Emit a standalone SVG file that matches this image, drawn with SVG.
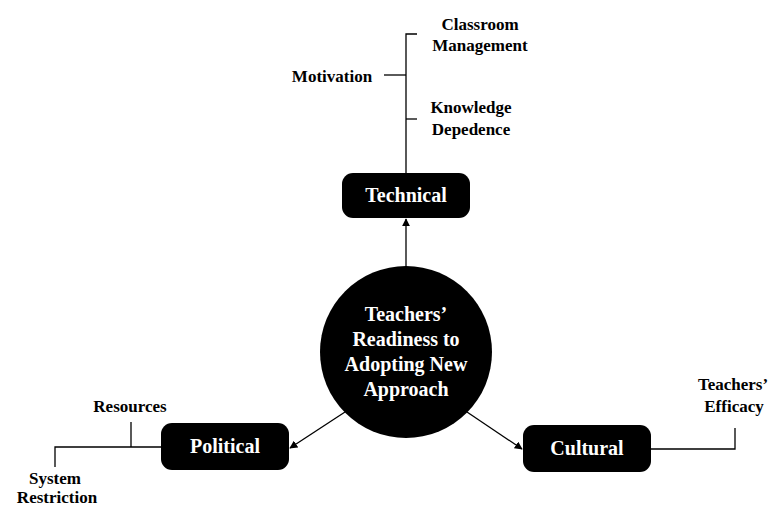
<svg xmlns="http://www.w3.org/2000/svg" width="771" height="506" viewBox="0 0 771 506">
  <style>
    .box { fill: #000; }
    .main { font-family: "Liberation Serif", "Times New Roman", serif; font-weight: bold; font-size: 20px; fill: #fff; text-anchor: middle; }
    .label { font-family: "Liberation Serif", "Times New Roman", serif; font-weight: bold; font-size: 17px; fill: #000; text-anchor: middle; }
    .line { stroke: #000; stroke-width: 1.3; fill: none; }
    .arrow { stroke: #000; stroke-width: 1.3; fill: none; marker-end: url(#head); }
  </style>
  <defs>
    <marker id="head" viewBox="0 0 10 10" refX="9" refY="5" markerWidth="8" markerHeight="8" markerUnits="userSpaceOnUse" orient="auto">
      <path d="M0,0 L10,5 L0,10 Z" fill="#000"/>
    </marker>
  </defs>
  <rect width="771" height="506" fill="#fff"/>

  <g id="connectors">
    <!-- centre to the three categories -->
    <line class="arrow" x1="406" y1="266" x2="406" y2="219"/>
    <line class="arrow" x1="345" y1="412" x2="290" y2="448"/>
    <line class="arrow" x1="467" y1="412" x2="522" y2="449"/>
    <!-- technical branches -->
    <polyline class="line" points="417,34 406,34 406,173"/>
    <line class="line" x1="406" y1="119" x2="417" y2="119"/>
    <line class="line" x1="384" y1="75" x2="406" y2="75"/>
    <!-- political branches -->
    <polyline class="line" points="55,467 55,447 161,447"/>
    <line class="line" x1="131" y1="422" x2="131" y2="447"/>
    <!-- cultural branch -->
    <polyline class="line" points="651,449 735,449 735,428"/>
  </g>

  <g id="centre">
    <circle class="box" cx="406" cy="352" r="86"/>
    <text class="main" x="406" y="321">Teachers’</text>
    <text class="main" x="406" y="346">Readiness to</text>
    <text class="main" x="406" y="371">Adopting New</text>
    <text class="main" x="406" y="396">Approach</text>
  </g>

  <g id="technical">
    <rect class="box" x="342" y="173" width="128" height="45" rx="11"/>
    <text class="main" x="406" y="202">Technical</text>
  </g>

  <g id="political">
    <rect class="box" x="161" y="423" width="128" height="47" rx="11"/>
    <text class="main" x="225" y="453">Political</text>
  </g>

  <g id="cultural">
    <rect class="box" x="523" y="425" width="128" height="47" rx="11"/>
    <text class="main" x="587" y="455">Cultural</text>
  </g>

  <g id="classroom-management">
    <text class="label" x="480" y="30">Classroom</text>
    <text class="label" x="480" y="51">Management</text>
  </g>

  <g id="motivation">
    <text class="label" x="332" y="82">Motivation</text>
  </g>

  <g id="knowledge-dependence">
    <text class="label" x="471" y="113">Knowledge</text>
    <text class="label" x="471" y="135">Depedence</text>
  </g>

  <g id="resources">
    <text class="label" x="130" y="412">Resources</text>
  </g>

  <g id="system-restriction">
    <text class="label" x="55" y="484">System</text>
    <text class="label" x="57" y="503">Restriction</text>
  </g>

  <g id="teachers-efficacy">
    <text class="label" x="733" y="390">Teachers’</text>
    <text class="label" x="734" y="412">Efficacy</text>
  </g>
</svg>
